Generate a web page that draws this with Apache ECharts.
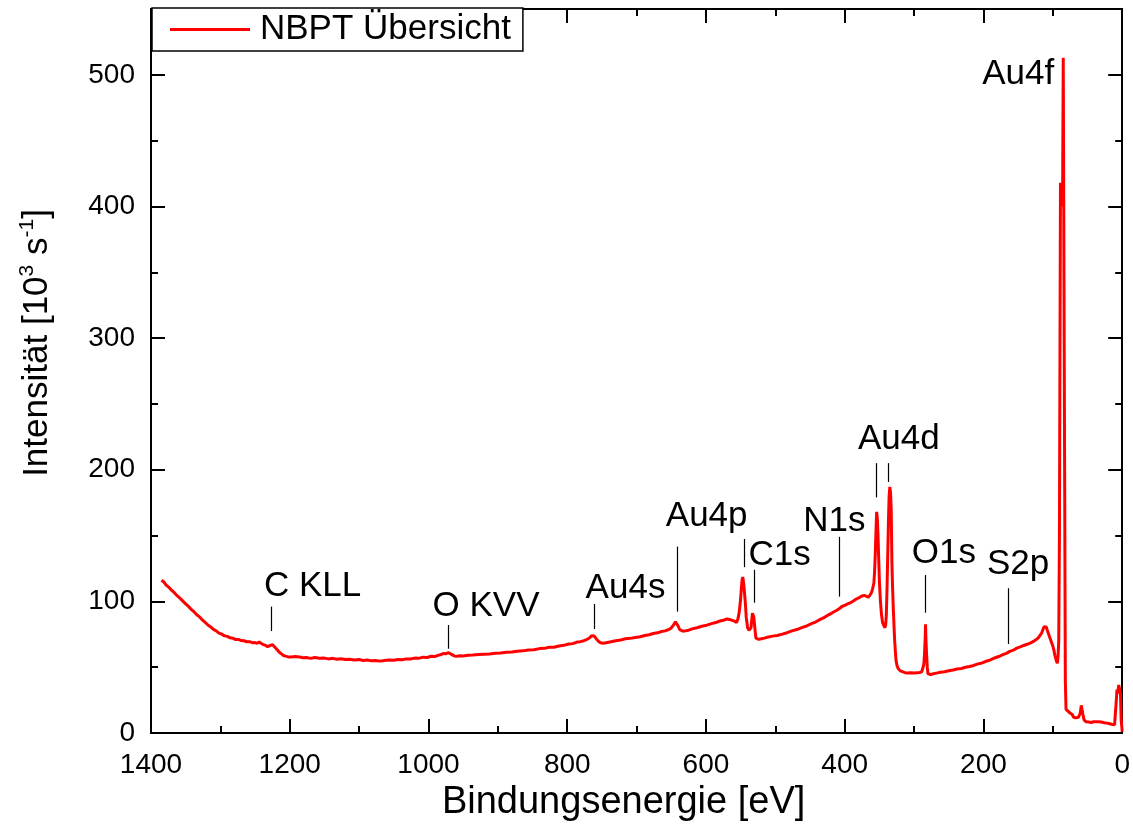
<!DOCTYPE html>
<html>
<head>
<meta charset="utf-8">
<title>NBPT Übersicht</title>
<script src="https://cdn.jsdelivr.net/npm/echarts@6/dist/echarts.min.js"></script>
<style>
  html, body { margin: 0; padding: 0; background: #ffffff; }
  #chart { width: 1133px; height: 834px; }
</style>
</head>
<body>
<div id="chart"></div>
<script>
// XPS survey spectrum: binding energy [eV] and intensity [10^3 s^-1]
const energy = [
  1385, 1381, 1378, 1374, 1370, 1366, 1362, 1358, 1354, 1350,
  1346, 1342, 1338, 1334, 1330, 1326, 1322, 1318, 1314, 1310,
  1306, 1302, 1298, 1294, 1290, 1286, 1282, 1278, 1274, 1270,
  1266, 1262, 1258, 1254, 1250, 1247, 1244, 1241, 1238, 1235,
  1232, 1229, 1227, 1225, 1223, 1220, 1218, 1215, 1212, 1209,
  1206, 1202, 1198, 1192, 1186, 1181, 1176, 1170, 1164, 1157,
  1150, 1144, 1138, 1132, 1126, 1120, 1114, 1107, 1100, 1094,
  1088, 1082, 1076, 1071, 1066, 1061, 1056, 1050, 1044, 1038,
  1032, 1026, 1020, 1014, 1008, 1002, 996, 991, 986, 982,
  978, 975, 972, 969, 966, 963, 960, 955, 950, 943,
  936, 928, 920, 912, 904, 896, 888, 880, 872, 864,
  856, 848, 840, 833, 826, 819, 812, 805, 798, 792,
  786, 781, 776, 772, 768, 765, 763, 761, 758, 755,
  752, 748, 744, 737, 730, 723, 716, 709, 702, 695,
  688, 682, 676, 670, 664, 659, 654, 651, 648, 646,
  644, 642, 640, 638, 636, 633, 630, 625, 620, 613,
  606, 599, 592, 586, 580, 575, 570, 566, 562, 559,
  556, 554, 552, 550, 549, 548, 547, 546, 545, 543,
  542, 540, 538, 536, 535, 534, 533, 532, 531, 530,
  528, 526, 524, 520, 516, 510, 504, 497, 490, 483,
  476, 469, 462, 455, 448, 442, 436, 430, 424, 418,
  412, 408, 404, 400, 396, 392, 388, 384, 380, 376,
  372, 369, 366, 364, 362, 360, 358, 357, 356, 355,
  354, 353, 352, 351, 350, 348.5, 347, 345.5, 344, 343,
  342, 341, 340, 339, 338, 337, 336, 335, 334, 333,
  332, 331, 330, 329, 328, 327, 326, 324.5, 323, 320,
  318, 314, 310, 305, 300, 296, 292, 289, 287, 286,
  285, 284, 283.5, 283, 282, 281, 280, 278, 276, 272,
  268, 262, 256, 250, 244, 238, 232, 226, 220, 214,
  208, 202, 196, 190, 184, 178, 172, 167, 162, 157,
  152, 147, 142, 137, 132, 128, 124, 121, 118, 116,
  114, 112.5, 111, 109.5, 108, 106, 104, 102, 100, 98.5,
  97, 96, 95, 94, 93.5, 92.5, 91.5, 90.5, 89, 88,
  87, 86, 85, 84, 83, 82, 81, 80, 79, 77,
  75, 72, 70, 67, 65, 63, 61.5, 60.5, 59, 58,
  57, 55, 52, 48, 45, 41, 38, 34, 30, 26,
  22, 18, 14, 11, 10, 8.5, 7.5, 6.5, 5, 3.5,
  2.5, 1.5, 0.5, 0
];
const intensity = [
  116, 114.5, 112.2, 110.6, 108.3, 106.4, 104.1, 102.3, 100.2, 98.1,
  96.2, 93.9, 92.1, 89.8, 88.2, 85.9, 84.1, 82.0, 80.6, 78.7,
  77.6, 75.9, 75.1, 73.8, 73.4, 72.3, 72.0, 71.0, 71.1, 70.2,
  70.1, 69.3, 69.4, 68.6, 68.7, 68.1, 69.1, 68.0, 67.2, 66.6,
  65.6, 66.3, 67.6, 67.1, 66.2, 64.4, 63.1, 61.3, 60.1, 58.9,
  58.4, 57.8, 57.7, 58.1, 57.7, 57.2, 57.3, 56.7, 57.4, 56.8,
  56.9, 56.3, 56.7, 56.1, 56.4, 55.8, 56.0, 55.5, 55.8, 55.1,
  55.4, 54.8, 55.1, 54.6, 54.9, 55.3, 55.5, 55.3, 55.9, 55.7,
  56.3, 56.2, 56.9, 56.7, 57.6, 57.4, 58.3, 58.1, 59.0, 59.6,
  60.5, 60.1, 61.0, 60.4, 59.5, 58.6, 58.2, 58.7, 58.5, 59.1,
  59.2, 59.7, 59.9, 60.1, 60.6, 60.8, 61.3, 61.5, 62.1, 62.4,
  63.1, 63.3, 64.1, 64.3, 65.1, 65.2, 66.1, 66.6, 67.6, 67.9,
  69.1, 69.4, 70.1, 71.0, 72.2, 73.8, 74.5, 73.6, 71.5, 69.6,
  68.6, 68.2, 68.6, 69.3, 70.1, 70.6, 71.6, 71.9, 72.6, 73.1,
  74.1, 74.6, 75.6, 76.1, 77.1, 77.6, 78.6, 79.3, 81.1, 82.6,
  84.5, 83.4, 81.1, 78.6, 77.1, 77.3, 77.6, 78.1, 79.1, 80.0,
  81.1, 81.9, 83.1, 83.9, 85.1, 85.6, 86.6, 86.2, 85.6, 84.9,
  84.1, 86.5, 92.0, 102, 110, 116, 118.5, 115, 110, 97,
  88, 80, 78, 78.5, 80, 86, 91, 92.5, 88, 82,
  72, 71.3, 71.1, 71.6, 72.1, 72.9, 73.6, 74.1, 75.1, 76.2,
  77.6, 78.6, 80.1, 81.3, 83.1, 84.3, 86.1, 87.6, 89.6, 91.3,
  93.1, 94.4, 96.1, 96.9, 98.1, 98.9, 100.1, 101.6, 102.6, 103.9,
  104.6, 103.9, 103.1, 103.6, 106, 109, 114, 122, 135, 152,
  168, 163, 150, 132, 115, 100, 90, 84, 82, 80.5,
  80, 82, 90, 110, 135, 160, 180, 187, 183, 170,
  130, 110, 95, 82, 70, 62, 55, 51, 49, 47.2,
  46.5, 46.0, 45.5, 45.7, 45.5, 45.8, 46.0, 46.5, 47.0, 52,
  60, 72, 82.5, 72, 60, 50, 45, 44.2, 44.5, 45.0,
  45.5, 46.1, 46.5, 47.3, 47.8, 48.6, 49.0, 49.9, 50.5, 51.3,
  52.5, 53.2, 54.5, 55.6, 57.0, 58.1, 59.5, 60.5, 62.0, 62.9,
  64.5, 65.4, 66.5, 67.4, 68.5, 69.6, 71.0, 72.3, 74.5, 76.2,
  79.0, 80.8, 82.0, 80.5, 78.0, 75.0, 72.0, 69.0, 66.0, 63.0,
  59.0, 57.0, 55.0, 54.0, 53.0, 58.0, 70.0, 150, 418, 418,
  418, 400, 513, 513, 200, 40, 18, 17.5, 17, 16,
  14.5, 14, 12, 11.5, 11.5, 12, 13.5, 15, 21, 18,
  15, 10, 8.5, 8.3, 8.0, 8.5, 8.6, 8.5, 8.3, 7.8,
  7.5, 7.0, 6.5, 6.2, 6.0, 25, 33, 30, 36.5, 36,
  30, 10, 4, 1
];

// Peak annotations: label text and the data position of its centre
const peakNames  = ['C KLL', 'O KVV', 'Au4s', 'Au4p', 'C1s', 'N1s', 'Au4d', 'O1s', 'S2p', 'Au4f'];
const peakLabelE = [1167, 917, 716, 599, 494, 415, 322, 257, 150, 150];
const peakLabelI = [111.5, 96, 110, 164.5, 135, 160.5, 223, 136.5, 128, 500.5];

// Marker strokes: energy, upper and lower intensity of each stroke
const markerE      = [1226, 971, 761, 642, 545, 531, 408.6, 354, 337, 283.5, 164];
const markerTop    = [96, 82, 98, 141.6, 147.4, 124, 149, 205, 205, 120, 110];
const markerBottom = [77.5, 64, 79, 92.2, 126, 99, 103.6, 179, 190.7, 91.4, 67.6];

// Axis ranges and tick spacing
const xMin = 0, xMax = 1400, xStep = 200;
const yMin = 0, yMax = 550, yStep = 100, yMinorStep = 50;

const seriesName = 'NBPT Übersicht';
const xTitle = 'Bindungsenergie [eV]';

const FONT = '"Liberation Sans", Arial, Helvetica, sans-serif';

const spectrum = energy.map((e, i) => [e, intensity[i]]);
const labelPoints = peakNames.map((n, i) => ({ name: n, value: [peakLabelE[i], peakLabelI[i]] }));
const markerLines = markerE.map((e, i) => [
  { coord: [e, markerTop[i]] },
  { coord: [e, markerBottom[i]] }
]);

const frameLine = { show: true, onZero: false, lineStyle: { color: '#000', width: 2 } };

function xAxisDef(position, withLabels) {
  return {
    type: 'value', position: position, inverse: true,
    min: xMin, max: xMax, interval: xStep,
    axisLine: frameLine,
    axisTick: { show: true, inside: true, length: 14, lineStyle: { color: '#000', width: 2 } },
    minorTick: { show: true, splitNumber: 2, length: 7, lineStyle: { color: '#000', width: 2 } },
    splitLine: { show: false },
    minorSplitLine: { show: false },
    axisLabel: withLabels
      ? { show: true, color: '#000', fontSize: 28, fontFamily: FONT, margin: 18,
          formatter: v => String(v) }
      : { show: false },
    name: withLabels ? xTitle : '',
    nameLocation: 'middle',
    nameGap: 50,
    nameTextStyle: { color: '#000', fontSize: 38, fontFamily: FONT, padding: [0, 26, 0, 0] }
  };
}

function yAxisDef(position, step, tickLen, withLabels) {
  const axis = {
    type: 'value', position: position,
    min: yMin, max: yMax, interval: step,
    axisLine: frameLine,
    axisTick: { show: true, inside: true, length: tickLen, lineStyle: { color: '#000', width: 2 } },
    splitLine: { show: false },
    axisLabel: withLabels
      ? { show: true, color: '#000', fontSize: 28, fontFamily: FONT, margin: 16,
          formatter: v => (v % yStep === 0 ? String(v) : '') }
      : { show: false }
  };
  if (withLabels) {
    axis.name = '{m|Intensität [10}{s|3}{m| s}{s|-1}{m|]}';
    axis.nameLocation = 'middle';
    axis.nameGap = 96;
    axis.nameRotate = 90;
    axis.nameTextStyle = {
      color: '#000', fontFamily: FONT, padding: [0, 0, 0, 56],
      rich: {
        m: { fontSize: 35, fontFamily: FONT, color: '#000', lineHeight: 38, verticalAlign: 'bottom' },
        s: { fontSize: 21, fontFamily: FONT, color: '#000', lineHeight: 22, verticalAlign: 'top' }
      }
    };
  }
  return axis;
}

const chart = echarts.init(document.getElementById('chart'), null, { renderer: 'canvas' });

chart.setOption({
  animation: false,
  backgroundColor: '#ffffff',
  grid: { left: 151, right: 8, top: 9, bottom: 101, containLabel: false },
  legend: {
    data: [{ name: seriesName, icon: 'rect' }],
    left: 152, top: 8,
    orient: 'horizontal',
    padding: [4, 12, 4, 18],
    itemWidth: 80, itemHeight: 3, itemGap: 10,
    borderColor: '#000', borderWidth: 1.5,
    backgroundColor: '#fff',
    textStyle: { color: '#000', fontSize: 35, fontFamily: FONT, padding: [0, 0, 0, 5] },
    selectedMode: false
  },
  xAxis: [xAxisDef('bottom', true), xAxisDef('top', false)],
  yAxis: [
    yAxisDef('left', yStep, 14, true),
    yAxisDef('left', yMinorStep, 7, false),
    yAxisDef('right', yStep, 14, false),
    yAxisDef('right', yMinorStep, 7, false)
  ],
  series: [
    {
      name: seriesName,
      type: 'line',
      xAxisIndex: 0, yAxisIndex: 0,
      data: spectrum,
      symbol: 'none',
      showSymbol: false,
      lineStyle: { color: '#ff0000', width: 3 },
      itemStyle: { color: '#ff0000' },
      clip: true,
      z: 3
    },
    {
      name: 'peaks',
      type: 'scatter',
      xAxisIndex: 0, yAxisIndex: 0,
      data: labelPoints,
      symbolSize: 0,
      silent: true,
      itemStyle: { opacity: 1 },
      label: {
        show: true, position: 'inside', formatter: '{b}',
        color: '#000', fontSize: 35, fontFamily: FONT,
        align: 'center', verticalAlign: 'middle',
        textBorderWidth: 0
      },
      markLine: {
        silent: true,
        symbol: ['none', 'none'],
        label: { show: false },
        lineStyle: { color: '#000', width: 1.2, type: 'solid', opacity: 1 },
        data: markerLines
      },
      z: 4
    }
  ]
});
</script>
</body>
</html>
